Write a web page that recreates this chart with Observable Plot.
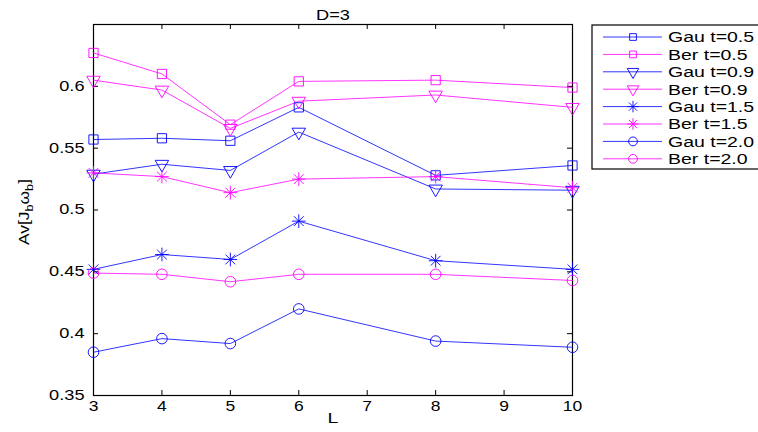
<!DOCTYPE html>
<html>
<head>
<meta charset="utf-8">
<script src="https://cdn.jsdelivr.net/npm/d3@7"></script>
<script src="https://cdn.jsdelivr.net/npm/@observablehq/plot@0.6"></script>
<style>
  body { margin: 0; background: #fff; }
  #chart { position: relative; width: 758px; height: 432px; }
  svg { font-family: "Liberation Sans", Arial, sans-serif; }
</style>
</head>
<body>
<div id="chart"></div>
<script>
// ---- data ----
const L = [3, 4, 5, 6, 8, 10];
const gau05 = [0.557, 0.558, 0.556, 0.583, 0.528, 0.536];
const ber05 = [0.627, 0.610, 0.569, 0.604, 0.605, 0.599];
const gau09 = [0.529, 0.537, 0.532, 0.563, 0.517, 0.516];
const ber09 = [0.605, 0.597, 0.566, 0.588, 0.593, 0.583];
const gau15 = [0.452, 0.464, 0.460, 0.491, 0.459, 0.452];
const ber15 = [0.530, 0.527, 0.514, 0.525, 0.527, 0.518];
const gau20 = [0.385, 0.396, 0.392, 0.420, 0.394, 0.389];
const ber20 = [0.449, 0.448, 0.442, 0.448, 0.448, 0.443];
const seriesNames = ["Gau t=0.5", "Ber t=0.5", "Gau t=0.9", "Ber t=0.9", "Gau t=1.5", "Ber t=1.5", "Gau t=2.0", "Ber t=2.0"];
const seriesValues = [gau05, ber05, gau09, ber09, gau15, ber15, gau20, ber20];
const seriesMarkers = ["square", "square", "tridown", "tridown", "star", "star", "circle", "circle"];
const xTicks = [3, 4, 5, 6, 7, 8, 9, 10];
const yTicks = [0.35, 0.4, 0.45, 0.5, 0.55, 0.6];
const title = "D=3";
const xLabel = "L";

const BLUE = "#0000ff", MAGENTA = "#ff00ff";
const colorOf = name => name.startsWith("Gau") ? BLUE : MAGENTA;

const rows = [];
seriesNames.forEach((name, i) => {
  L.forEach((l, j) => rows.push({series: name, L: l, v: seriesValues[i][j], marker: seriesMarkers[i], color: colorOf(name)}));
});
const byMarker = m => rows.filter(r => r.marker === m);

const W = 758, H = 432, ML = 93, MR = 186, MT = 24, MB = 37;
const FW = W - ML - MR, FH = H - MT - MB, TK = 5;

const marks = [
  // inward ticks on all four sides
  Plot.tickX(xTicks, {x: d => d, insetTop: FH - TK, stroke: "black"}),
  Plot.tickX(xTicks, {x: d => d, insetBottom: FH - TK, stroke: "black"}),
  Plot.tickY(yTicks, {y: d => d, insetRight: FW - TK, stroke: "black"}),
  Plot.tickY(yTicks, {y: d => d, insetLeft: FW - TK, stroke: "black"}),
  Plot.axisX({ticks: xTicks, tickSize: 0, tickPadding: 6, fontSize: 14, tickFormat: d3.format("d"), label: null}),
  Plot.axisY({ticks: yTicks, tickSize: 0, tickPadding: 9, fontSize: 14, tickFormat: d3.format("~g"), label: null}),
  Plot.frame({stroke: "black", strokeWidth: 1.2}),
  Plot.line(rows, {x: "L", y: "v", z: "series", stroke: "color", strokeWidth: 0.8}),
  Plot.dot(byMarker("square"), {x: "L", y: "v", symbol: "square", r: 5.2, stroke: "color", strokeWidth: 0.9}),
  Plot.dot(byMarker("tridown"), {x: "L", y: "v", symbol: "triangle", rotate: 180, r: 5, stroke: "color", strokeWidth: 0.9}),
  Plot.dot(byMarker("star"), {x: "L", y: "v", symbol: "plus", r: 4.5, stroke: "color", strokeWidth: 0.9}),
  Plot.dot(byMarker("star"), {x: "L", y: "v", symbol: "times", r: 4.5, stroke: "color", strokeWidth: 0.9}),
  Plot.dot(byMarker("circle"), {x: "L", y: "v", symbol: "circle", r: 5.3, stroke: "color", strokeWidth: 0.9}),
  Plot.text([title], {frameAnchor: "top", dy: -14, fontSize: 14, text: d => d}),
  Plot.text([xLabel], {frameAnchor: "bottom", dy: 27, fontSize: 15, text: d => d})
];

const chart = Plot.plot({
  width: W,
  height: H,
  marginLeft: ML,
  marginRight: MR,
  marginTop: MT,
  marginBottom: MB,
  style: {fontFamily: "'Liberation Sans', Arial, sans-serif", fontSize: "13px", color: "black", background: "white"},
  x: {domain: [3, 10]},
  y: {domain: [0.35, 0.65]},
  color: {type: "identity"},
  marks
});
document.getElementById("chart").appendChild(chart);

const svg = d3.select(chart);
// widen text horizontally like the original rendering
function stretch(sel, s) {
  sel.each(function () {
    const t = this.getAttribute("transform") || "";
    this.setAttribute("transform", t + ` scale(${s},1)`);
  });
}
stretch(svg.selectAll('g[aria-label="y-axis tick label"] text'), 1.3);
stretch(svg.selectAll('g[aria-label="x-axis tick label"] text'), 1.25);
stretch(svg.selectAll('g[aria-label="text"] text'), 1.3);

// y label with subscripts
const yl = svg.append("text")
  .attr("transform", "translate(29,212) rotate(-90) scale(1.2,1)")
  .attr("text-anchor", "middle")
  .attr("font-size", 14.5)
  .attr("fill", "black");
yl.append("tspan").text("Av[J");
yl.append("tspan").attr("font-size", 10.5).attr("dy", 4).text("b");
yl.append("tspan").attr("dy", -4).text("ω");
yl.append("tspan").attr("font-size", 10.5).attr("dy", 4).text("b");
yl.append("tspan").attr("dy", -4).text("]");

// legend
const lg = svg.append("g").attr("transform", "translate(592,25)").attr("text-anchor", "start");
lg.append("rect").attr("x", 0).attr("y", 0).attr("width", 175).attr("height", 144)
  .attr("fill", "white").attr("stroke", "black").attr("stroke-width", 1.2);
const symPath = {
  square: d3.symbol(d3.symbolSquare, Math.PI * 3.8 * 3.8)(),
  tridown: d3.symbol(d3.symbolTriangle, Math.PI * 4.3 * 4.3)(),
  circle: d3.symbol(d3.symbolCircle, Math.PI * 4.4 * 4.4)(),
  plus: d3.symbol(d3.symbolPlus, Math.PI * 3.8 * 3.8)(),
  times: d3.symbol(d3.symbolTimes, Math.PI * 3.8 * 3.8)()
};
seriesNames.forEach((name, i) => {
  const y = 12 + i * 17.4;
  const c = colorOf(name);
  const g = lg.append("g").attr("transform", `translate(0,${y})`);
  g.append("line").attr("x1", 11).attr("x2", 70).attr("y1", 0).attr("y2", 0).attr("stroke", c).attr("stroke-width", 0.8);
  const m = seriesMarkers[i];
  const paths = m === "star" ? [symPath.plus, symPath.times] : [symPath[m]];
  paths.forEach(p => g.append("path").attr("d", p).attr("fill", "none").attr("stroke", c).attr("stroke-width", 0.9)
    .attr("transform", `translate(41,0)${m === "tridown" ? " rotate(180)" : ""}`));
  g.append("text").attr("transform", "translate(76,0) scale(1.3,1)").attr("dy", "0.36em")
    .attr("font-size", 15).attr("fill", "black").attr("text-anchor", "start").text(name);
});
</script>
</body>
</html>
